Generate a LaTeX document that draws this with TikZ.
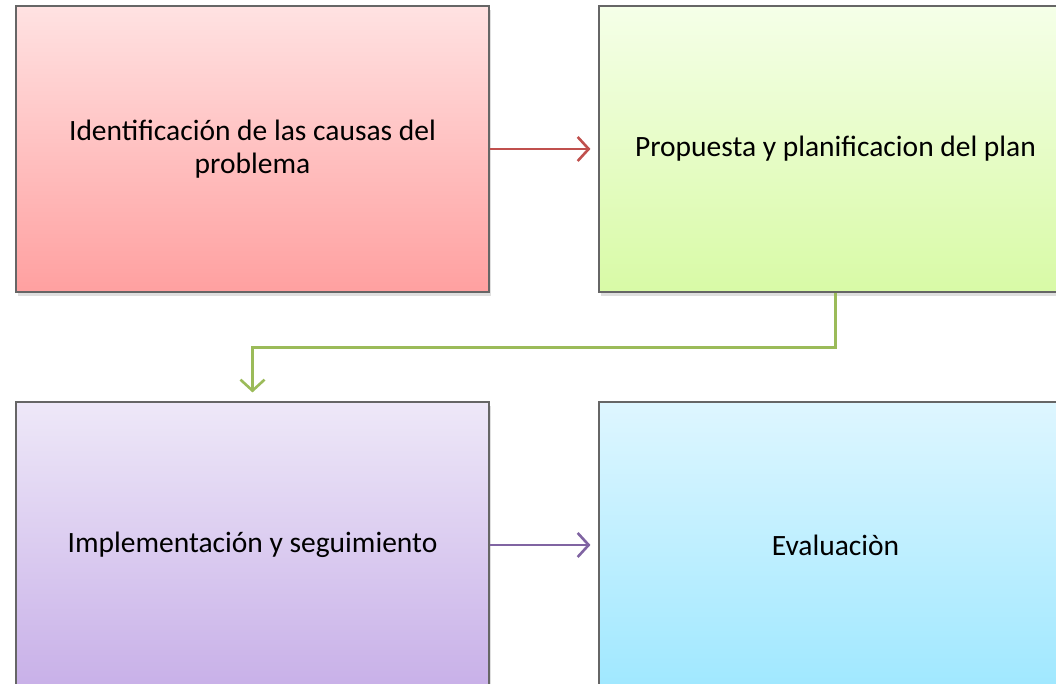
\documentclass[tikz,border=0pt]{standalone}
\usepackage{fontspec}
\setmainfont{Carlito}
\usetikzlibrary{arrows.meta,shadows}
\definecolor{rojoA}{RGB}{255,226,226}
\definecolor{rojoB}{RGB}{255,160,160}
\definecolor{verdeA}{RGB}{245,255,232}
\definecolor{verdeB}{RGB}{216,250,166}
\definecolor{moradoA}{RGB}{238,232,248}
\definecolor{moradoB}{RGB}{200,176,232}
\definecolor{azulA}{RGB}{222,246,255}
\definecolor{azulB}{RGB}{160,232,255}
\begin{document}
\begin{tikzpicture}[x=1pt,y=1pt,
    paso/.style={draw=gray!80!black,line width=1.1pt,minimum width=473pt,minimum height=286pt,
        align=center,font=\fontsize{29.5}{33}\selectfont,
        drop shadow={shadow xshift=2pt,shadow yshift=-4pt,opacity=.25}},
    flecha/.style={line width=2.6pt,-{Straight Barb[length=11pt,width=24pt,line width=2.6pt]}}]
    \useasboundingbox (0,0) rectangle (1056,684);
    \clip (0,0) rectangle (1056,684);

    \node [paso,top color=rojoA,bottom color=rojoB] (causas) at (252.5,535) {Identificación de las causas del\\problema};
    \node [paso,top color=verdeA,bottom color=verdeB] (propuesta) at (835.5,535) {Propuesta y planificacion del plan};
    \node [paso,top color=moradoA,bottom color=moradoB] (impl) at (252.5,139) {Implementación y seguimiento};
    \node [paso,top color=azulA,bottom color=azulB] (eval) at (835.5,139) {Evaluaciòn};

    \draw [flecha,color={rgb,255:red,192;green,80;blue,77}] (causas.east) -- ([xshift=-8pt]propuesta.west);
    \draw [flecha,color={rgb,255:red,155;green,187;blue,89}] (propuesta.south) -- ++(0,-55) -| ([yshift=9pt]impl.north);
    \draw [flecha,color={rgb,255:red,128;green,100;blue,162}] (impl.east) -- ([xshift=-8pt]eval.west);
\end{tikzpicture}
\end{document}
